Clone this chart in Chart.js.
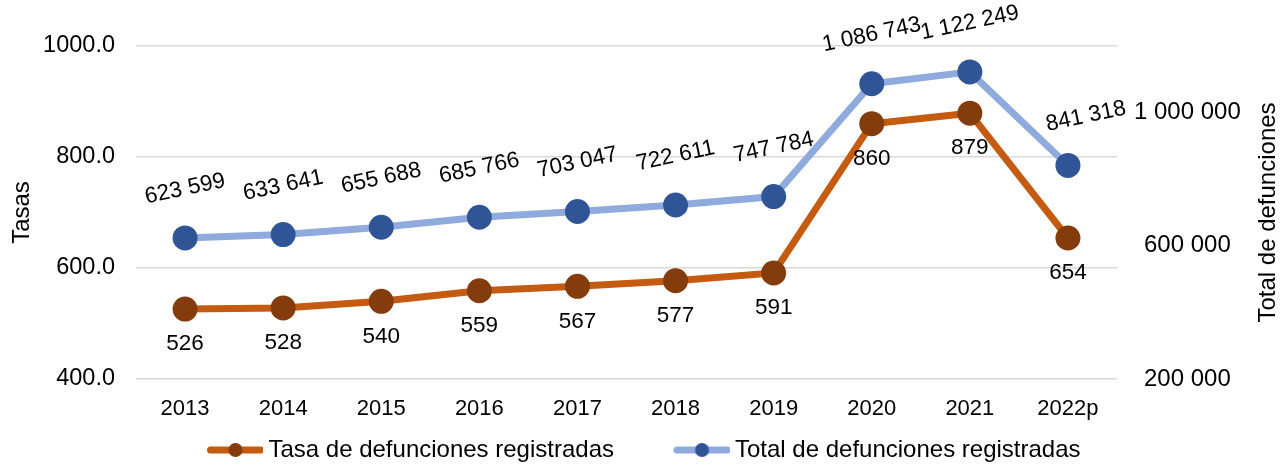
<!DOCTYPE html>
<html>
<head>
<meta charset="utf-8">
<script src="https://cdn.jsdelivr.net/npm/chart.js@4.4.1/dist/chart.umd.min.js"></script>
<style>
html,body{margin:0;padding:0;background:#fff}
#wrap{width:1286px;height:466px}
</style>
</head>
<body>
<div id="wrap"><canvas id="grafica" width="1286" height="466"></canvas></div>
<script>
// ===== DATOS =====
let anios=['2013','2014','2015','2016','2017','2018','2019','2020','2021','2022p']
let tasa=[526,528,540,559,567,577,591,860,879,654]
let total=[623599,633641,655688,685766,703047,722611,747784,1086743,1122249,841318]
let ticksTasa=[400,600,800,1000]
let ticksTotal=[200000,600000,1000000]

const FONT="'Liberation Sans', Arial, sans-serif"

function conEspacios(n){
    return String(n).replace(/\B(?=(\d{3})+(?!\d))/g,' ')
}

// icono de leyenda: linea con punto (desplazado a la derecha dentro del lienzo)
function iconoLeyenda(linea,punto){
    let c=document.createElement('canvas')
    c.width=114; c.height=20
    let g=c.getContext('2d')
    let a=58.5
    g.strokeStyle=linea; g.lineWidth=7; g.lineCap='round'
    g.beginPath(); g.moveTo(a+3,10); g.lineTo(a+53,10); g.stroke()
    g.fillStyle=punto
    g.beginPath(); g.arc(a+28,10,7,0,Math.PI*2); g.fill()
    return c
}

// etiquetas de datos y titulos de ejes
const etiquetas={
    id:'etiquetas',
    afterLayout(chart){
        // la leyenda queda un poco mas a la izquierda y mas abajo
        let l=chart.legend
        l.left-=25; l.right-=25
        l.top+=6; l.bottom+=6
    },
    afterDatasetsDraw(chart){
        let ctx=chart.ctx
        ctx.save()
        ctx.font='22.5px '+FONT
        ctx.fillStyle='#000'
        ctx.textAlign='center'
        ctx.textBaseline='middle'
        // tasa: debajo del punto
        chart.getDatasetMeta(0).data.forEach((p,i)=>{
            ctx.fillText(String(tasa[i]),p.x,p.y+35)
        })
        // total: encima, inclinado
        let ult=total.length-1
        chart.getDatasetMeta(1).data.forEach((p,i)=>{
            ctx.save()
            ctx.translate(p.x+(i===ult?18:0),p.y-49)
            ctx.rotate(-12*Math.PI/180)
            ctx.fillText(conEspacios(total[i]),0,0)
            ctx.restore()
        })
        // titulos de ejes
        let a=chart.chartArea
        let cy=(a.top+a.bottom)/2
        ctx.font='24px '+FONT
        ctx.save(); ctx.translate(22,cy); ctx.rotate(-Math.PI/2); ctx.fillText('Tasas',0,0); ctx.restore()
        ctx.save(); ctx.translate(1268,cy); ctx.rotate(-Math.PI/2); ctx.fillText('Total de defunciones',0,0); ctx.restore()
        ctx.restore()
    }
}

let iconos=[iconoLeyenda('#C55A11','#843C0C'),iconoLeyenda('#8FAADC','#2F5597')]

let grafica=new Chart(document.getElementById('grafica'),{
    type:'line',
    data:{
        labels:anios,
        datasets:[{
            label:'Tasa de defunciones registradas',
            data:tasa,
            yAxisID:'y',
            borderColor:'#C55A11',
            backgroundColor:'#843C0C',
            pointBackgroundColor:'#843C0C',
            pointBorderColor:'#843C0C',
            borderWidth:7,
            pointRadius:9,
            tension:0
        },{
            label:'Total de defunciones registradas',
            data:total,
            yAxisID:'y2',
            borderColor:'#8FAADC',
            backgroundColor:'#2F5597',
            pointBackgroundColor:'#2F5597',
            pointBorderColor:'#2F5597',
            borderWidth:7,
            pointRadius:9,
            tension:0
        }]
    },
    options:{
        responsive:false,
        animation:false,
        layout:{padding:{top:46,bottom:0,left:0,right:0}},
        plugins:{
            tooltip:{enabled:false},
            legend:{
                position:'bottom',
                labels:{
                    usePointStyle:true,
                    pointStyleWidth:101,
                    padding:8,
                    color:'#000',
                    font:{family:FONT,size:24},
                    generateLabels(chart){
                        return chart.data.datasets.map((d,i)=>({
                            text:d.label,
                            pointStyle:iconos[i],
                            fillStyle:d.backgroundColor,
                            strokeStyle:d.borderColor,
                            lineWidth:0,
                            hidden:false,
                            datasetIndex:i,
                            fontColor:'#000'
                        }))
                    }
                }
            }
        },
        scales:{
            x:{
                offset:true,
                afterFit(s){s.height=45},
                grid:{display:false},
                border:{display:false},
                ticks:{color:'#000',padding:9,font:{family:FONT,size:22}}
            },
            y:{
                position:'left',
                min:400,max:1000,
                afterFit(s){s.width=136},
                afterBuildTicks(s){s.ticks=ticksTasa.map(v=>({value:v}))},
                grid:{color:'#D9D9D9',lineWidth:1.5,drawTicks:false},
                border:{display:false},
                ticks:{color:'#000',padding:21,font:{family:FONT,size:23.5},callback:v=>v.toFixed(1)}
            },
            y2:{
                position:'right',
                min:200000,max:1200000,
                afterFit(s){s.width=169},
                afterBuildTicks(s){s.ticks=ticksTotal.map(v=>({value:v}))},
                grid:{display:false,drawTicks:false},
                border:{display:false},
                ticks:{color:'#000',padding:17,crossAlign:'center',font:{family:FONT,size:24},callback:v=>conEspacios(v)}
            }
        }
    },
    plugins:[etiquetas]
})
</script>
</body>
</html>
